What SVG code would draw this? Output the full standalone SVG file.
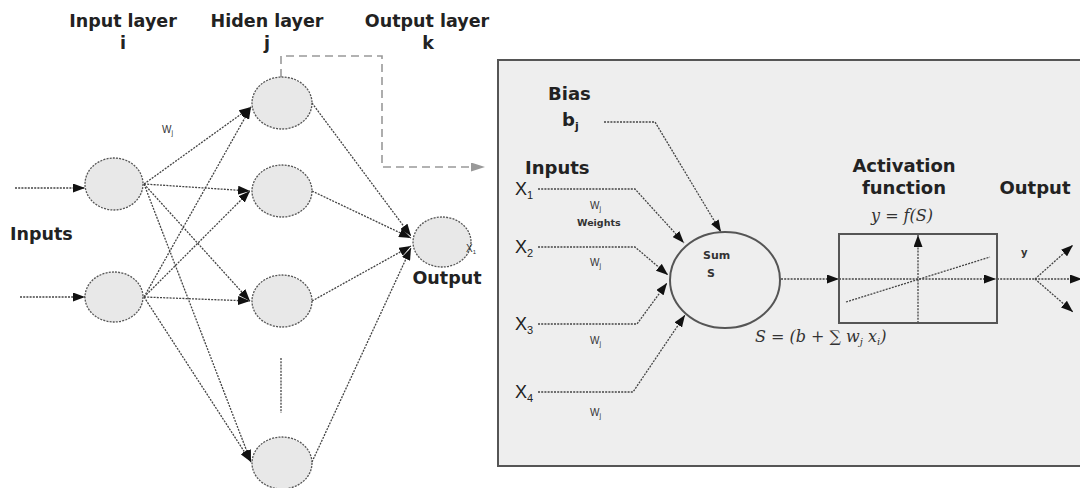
<svg xmlns="http://www.w3.org/2000/svg" width="1080" height="488" viewBox="0 0 1080 488">
<style>
.hd{font-family:"DejaVu Sans",Verdana,sans-serif;font-weight:bold;font-size:17.5px;fill:#222}
.lb{font-family:"DejaVu Sans",Verdana,sans-serif;font-weight:bold;font-size:18px;fill:#222}
.sm{font-family:"Liberation Sans",Arial,sans-serif;font-size:10px;fill:#333}
.xl{font-family:"Liberation Sans",Arial,sans-serif;font-size:18px;fill:#222}
.math{font-family:"DejaVu Serif","Liberation Serif",serif;font-style:italic;font-size:16px;fill:#333}
.nd{fill:#e8e8e8;stroke:#555;stroke-width:1.3;stroke-dasharray:2,1.2}
.ln{fill:none;stroke:#444;stroke-width:1.3;stroke-dasharray:2,1.2}
</style>
<defs>
<marker id="ah" markerUnits="userSpaceOnUse" markerWidth="12" markerHeight="9" refX="12" refY="4.5" orient="auto"><path d="M0,0 L12,4.5 L0,9 z" fill="#111"/></marker>
<marker id="ag" markerUnits="userSpaceOnUse" markerWidth="14" markerHeight="9" refX="14" refY="4.5" orient="auto"><path d="M0,0 L14,4.5 L0,9 z" fill="#999"/></marker>
</defs>
<rect width="1080" height="488" fill="#fff"/>
<rect id="panel" x="498" y="60" width="600" height="406" fill="#eeeeee" stroke="#555" stroke-width="2"/>

<g id="headers">
<text class="hd" x="123" y="27" text-anchor="middle">Input layer</text>
<text class="hd" x="123" y="49" text-anchor="middle">i</text>
<text class="hd" x="267" y="27" text-anchor="middle">Hiden layer</text>
<text class="hd" x="267" y="49" text-anchor="middle">j</text>
<text class="hd" x="427" y="27" text-anchor="middle">Output layer</text>
<text class="hd" x="428" y="49" text-anchor="middle">k</text>
<text class="hd" x="10" y="240">Inputs</text>
<text class="sm" x="162" y="133">W<tspan font-size="7" dy="2">j</tspan></text>
</g>

<g id="connectors">
<line class="ln" x1="15" y1="188" x2="85" y2="188" marker-end="url(#ah)"/>
<line class="ln" x1="20" y1="297" x2="85" y2="297" marker-end="url(#ah)"/>
<line class="ln" x1="144" y1="184" x2="251" y2="107" marker-end="url(#ah)"/>
<line class="ln" x1="144" y1="184" x2="250" y2="191" marker-end="url(#ah)"/>
<line class="ln" x1="144" y1="184" x2="250" y2="301" marker-end="url(#ah)"/>
<line class="ln" x1="144" y1="184" x2="251" y2="462" marker-end="url(#ah)"/>
<line class="ln" x1="144" y1="297" x2="251" y2="107" marker-end="url(#ah)"/>
<line class="ln" x1="144" y1="297" x2="250" y2="191" marker-end="url(#ah)"/>
<line class="ln" x1="144" y1="297" x2="250" y2="301" marker-end="url(#ah)"/>
<line class="ln" x1="144" y1="297" x2="251" y2="462" marker-end="url(#ah)"/>
<line class="ln" x1="312" y1="103" x2="411" y2="236" marker-end="url(#ah)"/>
<line class="ln" x1="312" y1="191" x2="411" y2="238" marker-end="url(#ah)"/>
<line class="ln" x1="312" y1="301" x2="411" y2="246" marker-end="url(#ah)"/>
<line class="ln" x1="312" y1="462" x2="411" y2="248" marker-end="url(#ah)"/>
<line class="ln" x1="281" y1="358" x2="281" y2="413"/>
<path d="M281,77 V56 H382 V167 H485" fill="none" stroke="#999" stroke-width="1.6" stroke-dasharray="8,5" marker-end="url(#ag)"/>
<path class="ln" d="M604,122 H655 L721,232" marker-end="url(#ah)"/>
<path class="ln" d="M538,189 H635 L684,243" marker-end="url(#ah)"/>
<path class="ln" d="M538,247 H635 L668,275" marker-end="url(#ah)"/>
<path class="ln" d="M538,324 H637 L667,283" marker-end="url(#ah)"/>
<path class="ln" d="M538,392 H633 L685,315" marker-end="url(#ah)"/>
<line class="ln" x1="781" y1="279" x2="839" y2="279" marker-end="url(#ah)"/>
<line class="ln" x1="839" y1="279" x2="996" y2="279" marker-end="url(#ah)"/>
<line class="ln" x1="918" y1="323" x2="918" y2="235" marker-end="url(#ah)"/>
<line class="ln" x1="846" y1="302" x2="990" y2="257"/>
<line class="ln" x1="997" y1="279" x2="1035" y2="279"/>
<line class="ln" x1="1035" y1="279" x2="1073" y2="245" marker-end="url(#ah)"/>
<line class="ln" x1="1035" y1="279" x2="1082" y2="279" marker-end="url(#ah)"/>
<line class="ln" x1="1035" y1="279" x2="1073" y2="312" marker-end="url(#ah)"/>
</g>

<g id="input1"><ellipse class="nd" cx="114" cy="184" rx="29" ry="26"/></g>
<g id="input2"><ellipse class="nd" cx="114" cy="297" rx="29" ry="25"/></g>
<g id="hidden1"><ellipse class="nd" cx="282" cy="103" rx="30" ry="26"/></g>
<g id="hidden2"><ellipse class="nd" cx="282" cy="191" rx="30" ry="26"/></g>
<g id="hidden3"><ellipse class="nd" cx="282" cy="301" rx="30" ry="26"/></g>
<g id="hidden4"><ellipse class="nd" cx="282" cy="463" rx="30" ry="26"/></g>
<g id="output">
<ellipse class="nd" cx="442" cy="242" rx="29" ry="25"/>
<text class="sm" x="466" y="252" font-size="9">X<tspan font-size="6" dy="2">1</tspan></text>
<text class="hd" x="447" y="284" text-anchor="middle">Output</text>
</g>

<g id="bias">
<text class="lb" x="548" y="100">Bias</text>
<text class="lb" x="562" y="126">b<tspan font-size="11" dy="4">j</tspan></text>
</g>
<g id="inputs-panel">
<text class="lb" x="525" y="174">Inputs</text>
<text class="xl" x="515" y="195">X<tspan font-size="11" dy="4">1</tspan></text>
<text class="xl" x="515" y="253">X<tspan font-size="11" dy="4">2</tspan></text>
<text class="xl" x="515" y="330">X<tspan font-size="11" dy="4">3</tspan></text>
<text class="xl" x="515" y="398">X<tspan font-size="11" dy="4">4</tspan></text>
<text class="sm" x="590" y="209">W<tspan font-size="7" dy="2">j</tspan></text>
<text x="577" y="226" font-family="DejaVu Sans,Verdana,sans-serif" font-weight="bold" font-size="9.5" fill="#333">Weights</text>
<text class="sm" x="590" y="266">W<tspan font-size="7" dy="2">j</tspan></text>
<text class="sm" x="590" y="344">W<tspan font-size="7" dy="2">j</tspan></text>
<text class="sm" x="590" y="416">W<tspan font-size="7" dy="2">j</tspan></text>
</g>
<g id="sum">
<ellipse cx="725" cy="280" rx="55" ry="48" fill="#eeeeee" stroke="#555" stroke-width="2"/>
<text x="703" y="259" font-family="DejaVu Sans,Verdana,sans-serif" font-weight="bold" font-size="11" fill="#333">Sum</text>
<text x="707" y="277" font-family="DejaVu Sans,Verdana,sans-serif" font-weight="bold" font-size="11" fill="#333">S</text>
<text class="math" x="755" y="342">S = (b + ∑ w<tspan font-size="10" dy="3">j</tspan><tspan dy="-3"> x</tspan><tspan font-size="10" dy="3">i</tspan><tspan dy="-3">)</tspan></text>
</g>
<g id="activation">
<text class="lb" x="904" y="172" text-anchor="middle">Activation</text>
<text class="lb" x="904" y="194" text-anchor="middle">function</text>
<text class="math" x="902" y="221" text-anchor="middle" font-size="18">y = f(S)</text>
<rect x="839" y="234" width="158" height="89" fill="none" stroke="#555" stroke-width="2"/>
</g>
<g id="output-panel">
<text class="lb" x="1035" y="194" text-anchor="middle">Output</text>
<text x="1021" y="256" font-family="DejaVu Sans,Verdana,sans-serif" font-weight="bold" font-size="10" fill="#333">y</text>
</g>
</svg>
